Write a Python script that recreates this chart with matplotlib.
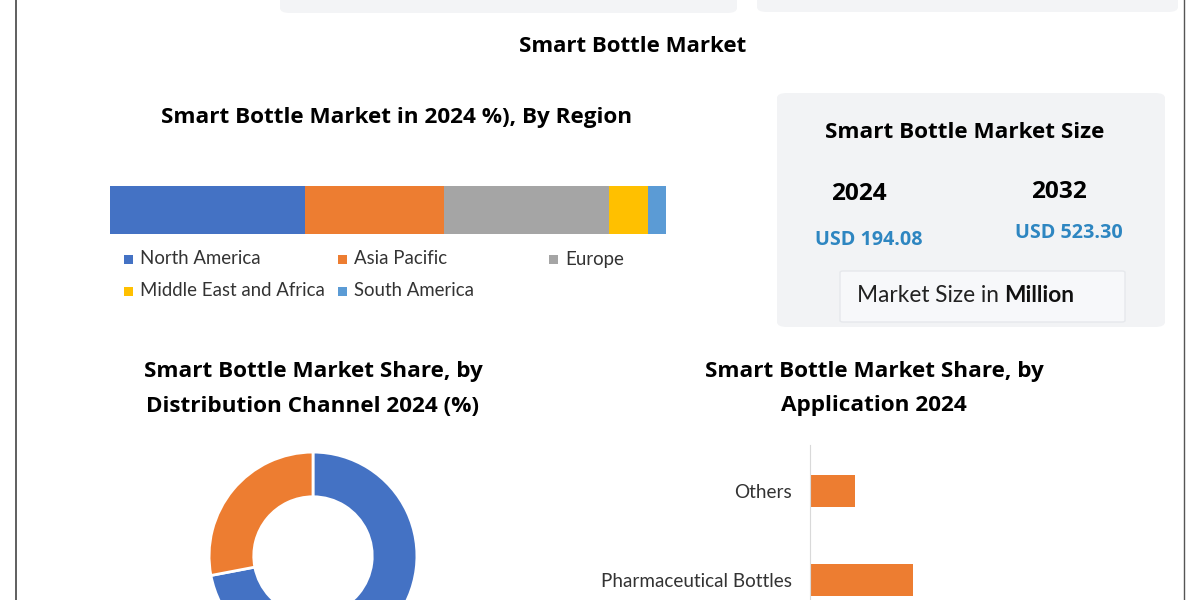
import matplotlib
matplotlib.use("Agg")
import matplotlib.pyplot as plt
from matplotlib.patches import FancyBboxPatch, Rectangle

# Region split, 2024 (%)
regions = ["North America", "Asia Pacific", "Europe", "Middle East and Africa", "South America"]
region_share = [35.1, 25.0, 29.7, 7.0, 3.2]
region_colors = ["#4472c4", "#ed7d31", "#a5a5a5", "#ffc000", "#5b9bd5"]

# Distribution channel split, 2024 (%)
channels = ["Online", "Offline"]
channel_share = [72, 28]
channel_colors = ["#4472c4", "#ed7d31"]

# Application split, 2024 (%)
applications = ["Others", "Pharmaceutical Bottles"]
app_share = [7.5, 17.2]

# Market size (USD million)
years = ["2024", "2032"]
sizes = ["USD 194.08", "USD 523.30"]

W, H = 1200, 600
fig = plt.figure(figsize=(12, 6), dpi=100)
fig.patch.set_facecolor("white")

TITLE = "Open Sans"
BODY = "Lato"
TS = 16.2  # section title size


def box(x0, y0, x1, y1):
    # pixel box (top-left origin) -> figure fraction rect
    return [x0 / W, 1 - y1 / H, (x1 - x0) / W, (y1 - y0) / H]


def ftext(x, y, s, **kw):
    return fig.text(x / W, 1 - y / H, s, **kw)


def rbox(x0, y0, x1, y1, fc, ec="none", lw=0, r=8, z=0):
    p = FancyBboxPatch((x0 / W, 1 - y1 / H), (x1 - x0) / W, (y1 - y0) / H,
                       boxstyle="round,pad=0,rounding_size=%f" % (r / W),
                       transform=fig.transFigure, fc=fc, ec=ec, lw=lw, zorder=z)
    fig.patches.append(p)


# frame lines and cut-off boxes at top
fig.add_artist(plt.Line2D([16 / W, 16 / W], [0, 1], color="#444444", lw=1.2))
fig.add_artist(plt.Line2D([1184 / W, 1184 / W], [0, 1], color="#555555", lw=1.0))
rbox(280, -20, 737, 13, "#f3f4f6", r=10)
rbox(757, -20, 1178, 12, "#f3f4f6", r=10)

ftext(633, 47, "Smart Bottle Market", ha="center", va="center",
      fontsize=16, fontweight="bold", family=TITLE)

# --- region stacked bar ---
ftext(397, 117, "Smart Bottle Market in 2024 %), By Region", ha="center", va="center",
      fontsize=TS, fontweight="bold", family=TITLE)
ax1 = fig.add_axes(box(110, 186, 666, 234))
left = 0
for name, v, c in zip(regions, region_share, region_colors):
    ax1.barh(0, v, left=left, height=1, color=c, edgecolor="none")
    left += v
ax1.set_xlim(0, sum(region_share))
ax1.set_ylim(-0.5, 0.5)
ax1.axis("off")

# legend in Excel row-major layout
leg_pos = [(124, 259), (338, 259), (549, 259), (124, 291), (338, 291)]
for (lx, ly), name, c in zip(leg_pos, regions, region_colors):
    fig.patches.append(Rectangle((lx / W, 1 - (ly + 5) / H), 9 / W, 9 / H,
                                 transform=fig.transFigure, fc=c, ec="none"))
    ftext(lx + 16, ly, name, ha="left", va="center", fontsize=13.4,
          family=BODY, color="#333333")

# --- market size card ---
rbox(777, 93, 1165, 327, "#f2f3f5", r=10)
ftext(965, 132, "Smart Bottle Market Size", ha="center", va="center",
      fontsize=TS, fontweight="bold", family=TITLE)
for x, yy, yr, sz, ys in [(859, 194, years[0], sizes[0], 240), (1059, 192, years[1], sizes[1], 233)]:
    ftext(x, yy, yr, ha="center", va="center", fontsize=17.6, fontweight="bold",
          family=TITLE)
    ftext(x + 10, ys, sz, ha="center", va="center", fontsize=14.2, fontweight="bold",
          family=TITLE, color="#2e86c1")
rbox(840, 271, 1125, 322, "#f7f8fa", ec="#e6e8ec", lw=1, r=3, z=1)
t1 = ftext(857, 295, "Market Size in ", ha="left", va="center", fontsize=16.3,
           family=BODY, color="#222222")
r = fig.canvas.get_renderer()
bb = t1.get_window_extent(renderer=r)
fig.text(bb.x1 / W, 1 - 295 / H, "Million", ha="left", va="center", fontsize=16.3,
         fontweight="bold", family=BODY, color="#111111")

# --- distribution channel donut ---
ftext(313, 372, "Smart Bottle Market Share, by", ha="center", va="center",
      fontsize=TS, fontweight="bold", family=TITLE)
ftext(313, 406, "Distribution Channel 2024 (%)", ha="center", va="center",
      fontsize=TS, fontweight="bold", family=TITLE)
ax2 = fig.add_axes(box(207, 450, 419, 662))
ax2.pie(channel_share, colors=channel_colors, startangle=90, counterclock=False,
        radius=1, wedgeprops=dict(width=0.43, edgecolor="white", linewidth=2))
ax2.set_xlim(-1.02, 1.02)
ax2.set_ylim(-1.02, 1.02)
ax2.set_aspect("equal")
ax2.axis("off")

# --- application bars ---
ftext(874, 371, "Smart Bottle Market Share, by", ha="center", va="center",
      fontsize=TS, fontweight="bold", family=TITLE)
ftext(874, 405, "Application 2024", ha="center", va="center",
      fontsize=TS, fontweight="bold", family=TITLE)
ax3 = fig.add_axes(box(810, 445, 1110, 700))
ypos = list(range(len(applications)))
ax3.barh(ypos, app_share, height=0.36, color="#ed7d31")
ax3.set_yticks(ypos)
ax3.set_yticklabels(applications, fontsize=13.6, family=BODY, color="#333333")
ax3.set_ylim(2.35, -0.517)
ax3.set_xlim(0, 50)
ax3.tick_params(axis="y", length=0, pad=13)
ax3.set_xticks([])
for s in ["top", "right", "bottom"]:
    ax3.spines[s].set_visible(False)
ax3.spines["left"].set_color("#d9d9d9")
ax3.patch.set_alpha(0)

fig.savefig("out.png", dpi=100)
